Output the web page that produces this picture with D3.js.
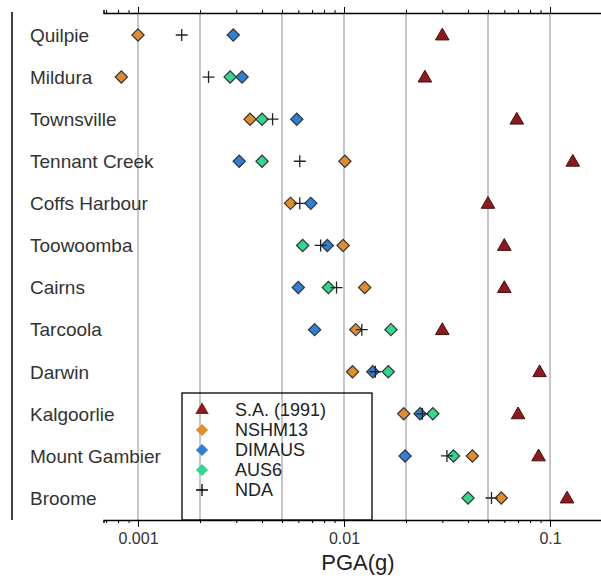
<!DOCTYPE html>
<html><head><meta charset="utf-8">
<script src="https://cdn.jsdelivr.net/npm/d3@7/dist/d3.min.js"></script>
<style>
body{margin:0;background:#fff;}
text{font-family:"Liberation Sans",Arial,Helvetica,sans-serif;}
</style></head>
<body><svg id="c" width="601" height="578"></svg>
<script>
const stations = ["Quilpie","Mildura","Townsville","Tennant Creek","Coffs Harbour","Toowoomba","Cairns","Tarcoola","Darwin","Kalgoorlie","Mount Gambier","Broome"];
const seriesNames = ["S.A. (1991)","NSHM13","DIMAUS","AUS6","NDA"];
const saValues     = [0.030,0.0247,0.069,0.129,0.050,0.060,0.060,0.030,0.089,0.070,0.088,0.121];
const nshm13Values = [0.0010,0.00083,0.0035,0.0101,0.0055,0.0099,0.0126,0.0114,0.0110,0.0195,0.042,0.058];
const dimausValues = [0.0029,0.0032,0.0059,0.0031,0.0069,0.0083,0.0060,0.0072,0.0138,0.0234,0.0198,null];
const aus6Values   = [null,0.0028,0.0040,0.0040,null,0.0063,0.0084,0.0169,0.0164,0.027,0.034,0.040];
const ndaValues    = [0.00163,0.0022,0.0045,0.0061,0.0061,0.0077,0.0092,0.0122,0.0142,0.0240,0.0316,0.052];
const gridValues = [0.001,0.002,0.005,0.01,0.02,0.05,0.1];
const decadeLabels = ["0.001","0.01","0.1"];
const axisTitle = "PGA(g)";

const colors = {sa:"#8b1a1f", nshm:"#e08c30", dimaus:"#2f7fd8", aus6:"#34d68e", nda:"#000"};

(function(){
const svg = d3.select("#c");
const x = d3.scaleLog().domain([0.001,0.1]).range([138,550]);
const xAx = d3.scaleLog().domain([0.00068,0.18]).range([x(0.00068), x(0.18)]);
const y = d3.scalePoint().domain(stations).range([35,498]);
const yTop = 13, yBot = 520;

svg.append("g").selectAll("line").data(gridValues).join("line")
  .attr("x1",d=>x(d)).attr("x2",d=>x(d)).attr("y1",yTop).attr("y2",yBot)
  .attr("stroke",d=>d===0.01?"#c8c8c8":"#8f8f8f").attr("stroke-width",d=>d===0.01?2:1);

const tickVals = [];
for (let k=-4;k<=-1;k++) for (let m=1;m<=9;m++){const v=m*Math.pow(10,k); if(v>=0.00068&&v<=0.18) tickVals.push(+v.toPrecision(3));}
const isDecade = v => Math.abs(Math.log10(v)-Math.round(Math.log10(v)))<1e-6;

const bAxis = d3.axisBottom(xAx).tickValues(tickVals)
  .tickFormat(d=>isDecade(d)?decadeLabels[Math.round(Math.log10(d))+3]:"").tickSize(3).tickPadding(6);
const gb = svg.append("g").attr("transform",`translate(0,${yBot})`).call(bAxis);
gb.select(".domain").attr("stroke","#000").attr("stroke-width",1.5);
gb.selectAll(".tick line").attr("y2",d=>isDecade(d)?7:3).attr("stroke","#000");
gb.selectAll(".tick text").attr("font-size",16).attr("fill","#333").attr("y",13)
  .attr("font-family","Liberation Sans, Arial, sans-serif");

const tAxis = d3.axisTop(xAx).tickValues(tickVals).tickFormat("").tickSize(3);
const gt = svg.append("g").attr("transform",`translate(0,${yTop})`).call(tAxis);
gt.select(".domain").attr("stroke","#000").attr("stroke-width",1.5);
gt.selectAll(".tick line").attr("y2",d=>isDecade(d)?-6:-3).attr("stroke","#000");

svg.append("line").attr("x1",12).attr("x2",12).attr("y1",12).attr("y2",yBot).attr("stroke","#000").attr("stroke-width",1.5);

svg.append("g").selectAll("text").data(stations).join("text")
  .attr("x",30).attr("y",d=>y(d)).attr("dy","0.36em")
  .attr("font-size",19).attr("fill","#333").text(d=>d);

svg.append("text").attr("x",358).attr("y",570).attr("text-anchor","middle")
  .attr("font-size",22).attr("fill","#222").text(axisTitle);

const diamond = d3.symbol().type(d3.symbolSquare).size(75)();
const tri = d3.symbol().type(d3.symbolTriangle).size(80)();
const plus = "M-6,0H6M0,-6V6";

function drawDiamonds(vals, col){
  svg.append("g").selectAll("path").data(stations.map((s,i)=>({s,v:vals[i]})).filter(d=>d.v!=null)).join("path")
    .attr("d",diamond).attr("transform",d=>`translate(${x(d.v)},${y(d.s)}) rotate(45)`)
    .attr("fill",col).attr("stroke","#333").attr("stroke-width",1.2);
}
svg.append("g").selectAll("path").data(stations.map((s,i)=>({s,v:saValues[i]}))).join("path")
  .attr("d",tri).attr("transform",d=>`translate(${x(d.v)},${y(d.s)+1})`)
  .attr("fill",colors.sa).attr("stroke","#4a0e10").attr("stroke-width",1);
drawDiamonds(nshm13Values, colors.nshm);
drawDiamonds(dimausValues, colors.dimaus);
drawDiamonds(aus6Values, colors.aus6);
svg.append("g").selectAll("path").data(stations.map((s,i)=>({s,v:ndaValues[i]}))).join("path")
  .attr("d",plus).attr("transform",d=>`translate(${x(d.v)},${y(d.s)})`)
  .attr("stroke","#222").attr("stroke-width",1.3).attr("fill","none");

const lg = svg.append("g");
lg.append("rect").attr("x",182).attr("y",393).attr("width",190).attr("height",yBot-393)
  .attr("fill","none").attr("stroke","#000").attr("stroke-width",1.3);
const legCols = [colors.sa,colors.nshm,colors.dimaus,colors.aus6,colors.nda];
seriesNames.forEach((n,i)=>{
  const yy = 410 + i*20;
  const g = lg.append("g").attr("transform",`translate(202,${yy})`);
  if(i===0) g.append("path").attr("d",tri).attr("fill",legCols[i]);
  else if(i===4) g.append("path").attr("d",plus).attr("stroke","#000").attr("stroke-width",1.3);
  else g.append("path").attr("d",diamond).attr("transform","rotate(45)").attr("fill",legCols[i]);
  lg.append("text").attr("x",235).attr("y",yy).attr("dy","0.36em").attr("font-size",18).attr("fill","#222").text(n);
});
})();
</script></body></html>
